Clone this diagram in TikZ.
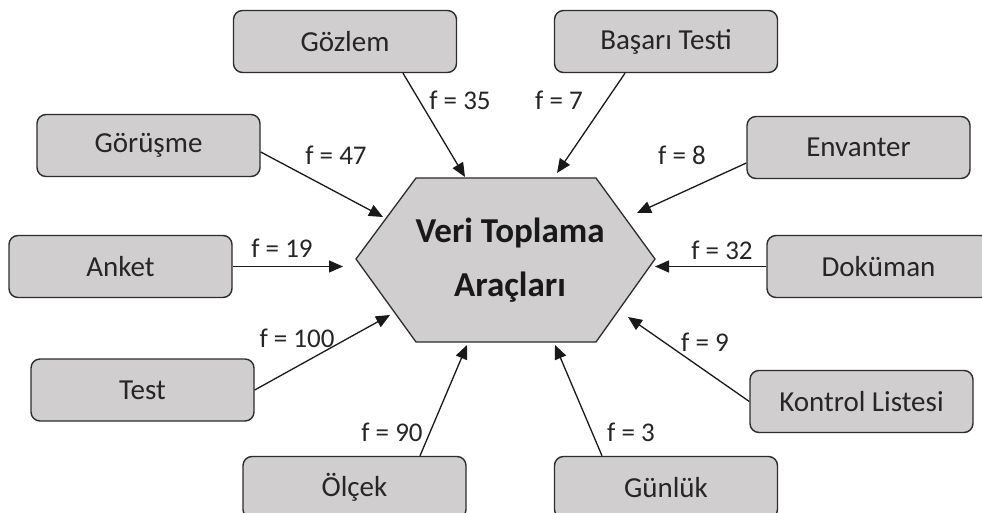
\documentclass[tikz,border=0pt]{standalone}
\usepackage{fontspec}
\setmainfont{Carlito}
\usetikzlibrary{arrows.meta}
\definecolor{boxgray}{RGB}{208,206,207}
\definecolor{edgegray}{RGB}{45,45,45}
\begin{document}
\begin{tikzpicture}[x=1pt,y=-1pt,
  src/.style={draw=edgegray, line width=1.4pt, fill=boxgray, rounded corners=9pt,
    minimum width=223pt, minimum height=62pt, inner sep=0pt,
    font=\fontsize{29}{30}\selectfont, text=black!85},
  lbl/.style={font=\fontsize{27}{30}\selectfont, inner sep=0pt, text=black!85},
  arr/.style={line width=1.3pt, draw=black!90, -{Triangle[length=14pt,width=12pt]}},
  hexa/.style={draw=edgegray, line width=1.3pt, fill=boxgray}]
\path[use as bounding box, clip] (0,0) rectangle (982,513);
\fill[white] (0,0) rectangle (982,513);

% central hexagon
\coordinate (hW) at (356,259);
\coordinate (hNW) at (416,178);
\coordinate (hNE) at (596,178);
\coordinate (hE) at (655,259);
\coordinate (hSE) at (596,342);
\coordinate (hSW) at (416,342);
\draw[hexa] (hW) -- (hNW) -- (hNE) -- (hE) -- (hSE) -- (hSW) -- cycle;
\node[font=\fontsize{35}{54}\selectfont\bfseries, align=center, inner sep=0pt, text=black!90]
  (hub) at (510,260) {Veri Toplama\\Araçları};

% source boxes
\node[src] (gozlem)   at (345,41.5)   {Gözlem};
\node[src] (basari)   at (666,41.5)   {Başarı Testi};
\node[src] (gorusme)  at (148.5,145.5) {Görüşme};
\node[src] (envanter) at (858.5,147.5) {Envanter};
\node[src] (anket)    at (120.5,266.5) {Anket};
\node[src] (dokuman)  at (878.5,266.5) {Doküman};
\node[src] (test)     at (142.5,390)  {Test};
\node[src] (kontrol)  at (861.5,401.5) {Kontrol Listesi};
\node[src] (olcek)    at (354.5,487.5) {Ölçek};
\node[src] (gunluk)   at (666,487.5)  {Günlük};

% arrow tips
\coordinate (t1) at (465,177);
\coordinate (t2) at (557,173);
\coordinate (t3) at (383,217);
\coordinate (t4) at (637,213);
\coordinate (t5) at (343,266.5);
\coordinate (t6) at (655,266.5);
\coordinate (t7) at (390,315);
\coordinate (t8) at (628,317);
\coordinate (t9) at (467,345);
\coordinate (t10) at (555,345);

\draw[arr] ([xshift=58pt]gozlem.south) -- (t1);
\draw[arr] ([xshift=-41pt]basari.south) -- (t2);
\draw[arr] ([yshift=-6.5pt]gorusme.east) -- (t3);
\draw[arr] ([yshift=-15.5pt]envanter.west) -- (t4);
\draw[arr] (anket.east) -- (t5);
\draw[arr] (dokuman.west) -- (t6);
\draw[arr] (test.east) -- (t7);
\draw[arr] (kontrol.west) -- (t8);
\draw[arr] ([xshift=65.5pt]olcek.north) -- (t9);
\draw[arr] ([xshift=-64pt]gunluk.north) -- (t10);

% labels
\node[lbl] (l1) at (460,100) {f = 35};
\node[lbl] (l2) at (559,100) {f = 7};
\node[lbl] (l3) at (336,155) {f = 47};
\node[lbl] (l4) at (682,155) {f = 8};
\node[lbl] (l5) at (282,248) {f = 19};
\node[lbl] (l6) at (722,250) {f = 32};
\node[lbl] (l7) at (297,338) {f = 100};
\node[lbl] (l8) at (705,342) {f = 9};
\node[lbl] (l9) at (392,432) {f = 90};
\node[lbl] (l10) at (631,432) {f = 3};
\end{tikzpicture}
\end{document}
